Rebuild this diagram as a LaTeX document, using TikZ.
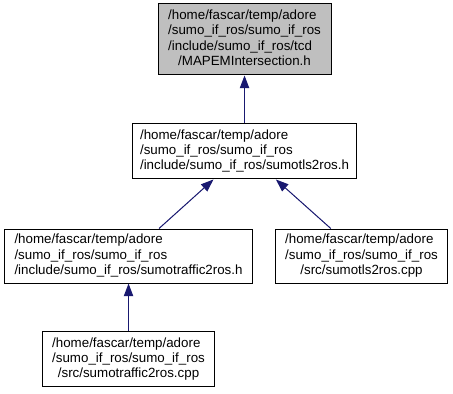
\documentclass[tikz,border=0pt]{standalone}
\usepackage{fontspec}
\setmainfont{Liberation Sans}
\usepackage{xcolor}
\usetikzlibrary{positioning,arrows.meta}

\definecolor{midnightblue}{HTML}{191970}
\definecolor{rootgray}{HTML}{BFBFBF}

% path lines flush left, file name centred under them
\newcommand{\filepath}[2]{\begin{tabular}{@{}l@{}}#1\\\multicolumn{1}{@{}c@{}}{#2}\end{tabular}}

\begin{document}
\begin{tikzpicture}[
  >={Triangle[length=9.5pt,width=7pt]},
  node distance=84pt,
  on grid,
  every node/.style={font=\fontsize{10}{11.5}\selectfont},
  file/.style={
    draw=black,
    line width=0.75pt,
    fill=white,
    inner sep=0pt,
    minimum height=40.5pt
  },
  incl/.style={<-, draw=midnightblue, fill=midnightblue, line width=0.75pt}
]
\useasboundingbox (0,0) rectangle (339.75pt,-294.75pt);

\node[file, fill=rootgray, minimum width=129.75pt, minimum height=53.25pt]
  (mapem) at (183.4pt,-29.6pt) {\filepath{/home/fascar/temp/adore\\
  /sumo\_if\_ros/sumo\_if\_ros\\
  /include/sumo\_if\_ros/tcd}{/MAPEMIntersection.h}};
\node[file, minimum width=168pt, minimum height=41.25pt] (tls) [below=of mapem]
  {\filepath{/home/fascar/temp/adore\\
  /sumo\_if\_ros/sumo\_if\_ros}{/include/sumo\_if\_ros/sumotls2ros.h}};
\node[file, minimum width=186pt] (trafficH) [below left=78.4pt and 87pt of tls]
  {\filepath{/home/fascar/temp/adore\\
  /sumo\_if\_ros/sumo\_if\_ros}{/include/sumo\_if\_ros/sumotraffic2ros.h}};
\node[file, minimum width=129pt] (tlsCpp) [below right=78.4pt and 87.75pt of tls]
  {\filepath{/home/fascar/temp/adore\\
  /sumo\_if\_ros/sumo\_if\_ros}{/src/sumotls2ros.cpp}};
\node[file, minimum width=129pt, minimum height=41.25pt] (trafficCpp) [below=77.6pt of trafficH]
  {\filepath{/home/fascar/temp/adore\\
  /sumo\_if\_ros/sumo\_if\_ros}{/src/sumotraffic2ros.cpp}};

\draw[incl] (mapem) -- (tls);
\draw[incl] (tls) -- (trafficH);
\draw[incl] (tls) -- (tlsCpp);
\draw[incl] (trafficH) -- (trafficCpp);
\end{tikzpicture}
\end{document}
